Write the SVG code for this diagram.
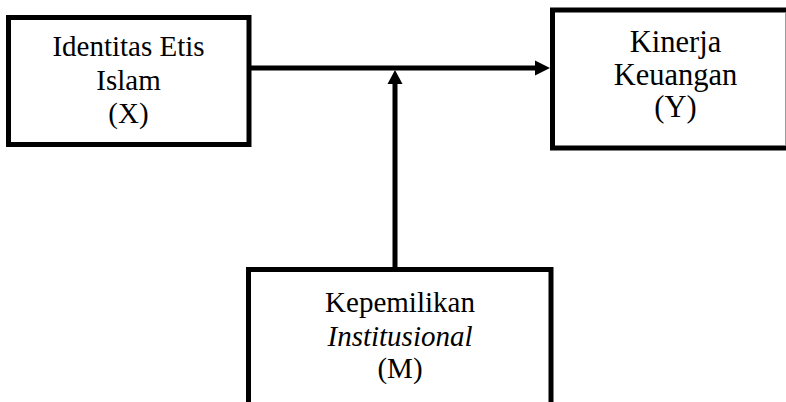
<svg xmlns="http://www.w3.org/2000/svg" width="786" height="402" viewBox="0 0 786 402">
<style>
.box{fill:#fff;stroke:#000;stroke-width:5}
.line{stroke:#000;stroke-width:5;fill:none}
.head{fill:#000}
text{font-size:29px;fill:#000;text-anchor:middle}
.big{font-size:30.5px}
.it{font-style:italic}
</style>
<rect width="786" height="402" fill="#fff"/>
<g font-family="'Liberation Serif', 'DejaVu Serif', serif">
<g id="node-x">
<rect class="box" x="8.5" y="17.5" width="240.5" height="127"/>
<text x="128.5" y="56">Identitas Etis</text>
<text x="128.5" y="90">Islam</text>
<text x="128.5" y="123">(X)</text>
</g>
<g id="node-y">
<path class="box" d="M790 10 H552.5 V148 H790"/>
<line x1="785.5" y1="12.5" x2="785.5" y2="145.5" stroke="#999" stroke-width="1"/>
<text class="big" x="675.5" y="52">Kinerja</text>
<text class="big" x="675.5" y="85">Keuangan</text>
<text class="big" x="675.5" y="117">(Y)</text>
</g>
<g id="node-m">
<path class="box" d="M248.5 410 V269.5 H551 V410"/>
<text x="400" y="312">Kepemilikan</text>
<text x="400" y="346" class="it">Institusional</text>
<text x="400" y="378">(M)</text>
</g>
</g>
<g id="connectors">
<line class="line" x1="251" y1="68" x2="537" y2="68"/>
<polygon class="head" points="550,68 535,60.5 535,75.5"/>
<line class="line" x1="395" y1="267" x2="395" y2="82"/>
<polygon class="head" points="395,70 387.5,84 402.5,84"/>
</g>
</svg>
